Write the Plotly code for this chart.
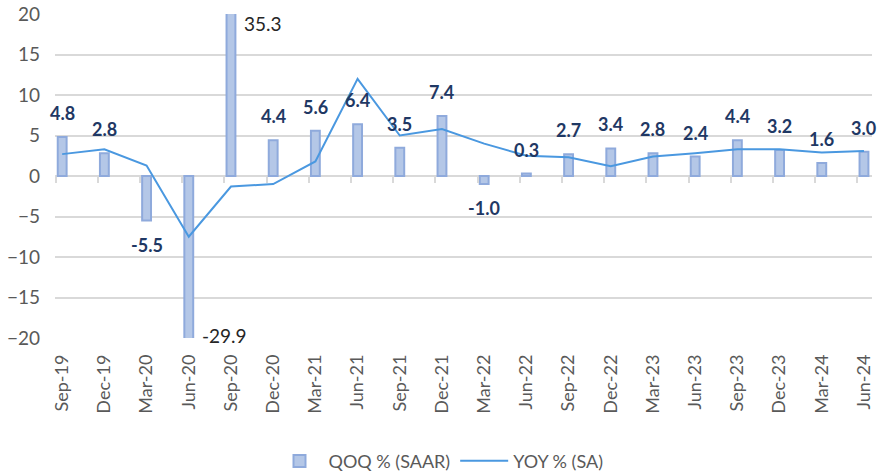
import plotly.graph_objects as go

categories = ["Sep-19", "Dec-19", "Mar-20", "Jun-20", "Sep-20", "Dec-20", "Mar-21", "Jun-21",
              "Sep-21", "Dec-21", "Mar-22", "Jun-22", "Sep-22", "Dec-22", "Mar-23", "Jun-23",
              "Sep-23", "Dec-23", "Mar-24", "Jun-24"]
qoq_saar = [4.8, 2.8, -5.5, -29.9, 35.3, 4.4, 5.6, 6.4, 3.5, 7.4, -1.0, 0.3, 2.7, 3.4, 2.8, 2.4,
            4.4, 3.2, 1.6, 3.0]
yoy_sa = [2.7, 3.3, 1.3, -7.5, -1.3, -1.0, 1.8, 12.0, 5.0, 5.8, 4.0, 2.5, 2.3, 1.2, 2.4, 2.8,
          3.3, 3.3, 2.9, 3.1]
y_min, y_max = -20, 20
y_ticks = [-20, -15, -10, -5, 0, 5, 10, 15, 20]

FONT = "Lato, 'Open Sans', sans-serif"
GRID = "#D9D9D9"
X_RANGE = [-0.17, len(categories) - 1 + 0.19]

fig = go.Figure()
fig.add_trace(go.Bar(
    x=categories, y=qoq_saar, name="QOQ % (SAAR)", width=0.21,
    marker=dict(color="#B4C7E7", line=dict(color="#8FAADC", width=2)),
))
fig.add_trace(go.Scatter(
    x=categories, y=yoy_sa, name="YOY % (SA)", mode="lines",
    line=dict(color="#4A98E0", width=2),
))
# empty helper trace so the overlay axis (zero-line tick marks) is drawn
fig.add_trace(go.Scatter(x=[0], y=[None], xaxis="x2", yaxis="y", mode="markers",
                         showlegend=False, hoverinfo="skip"))

for c, v in zip(categories, qoq_saar):
    txt = f"{v:.1f}"
    if v > y_max:
        fig.add_annotation(x=c, y=y_max, text=txt, showarrow=False, xanchor="left",
                           yanchor="middle", xshift=11, yshift=-9,
                           font=dict(family=FONT, size=19, color="#262626"))
    elif v < y_min:
        fig.add_annotation(x=c, y=y_min, text=txt, showarrow=False, xanchor="left",
                           yanchor="middle", xshift=11, yshift=3,
                           font=dict(family=FONT, size=19, color="#262626"))
    else:
        fig.add_annotation(x=c, y=v, text=f"<b>{txt}</b>", showarrow=False, xanchor="center",
                           yanchor="middle", yshift=24 if v >= 0 else -24,
                           font=dict(family=FONT, size=18, color="#1F3864"))

fig.update_layout(
    width=879, height=473,
    margin=dict(l=55, r=7, t=14, b=135, autoexpand=False),
    paper_bgcolor="white", plot_bgcolor="white",
    font=dict(family=FONT, size=18, color="#595959"),
    showlegend=True,
    legend=dict(orientation="h", x=0.5, xanchor="center", xref="container",
                y=0.025, yanchor="middle", yref="container",
                font=dict(family=FONT, size=18, color="#595959"), itemwidth=48,
                traceorder="normal"),
    xaxis=dict(
        type="category", range=X_RANGE, automargin=False,
        tickangle=-90, showgrid=False, showline=False, ticks="", zeroline=False,
        ticklabelstandoff=12, tickfont=dict(family=FONT, size=18, color="#595959"),
    ),
    # small tick marks hanging from the zero line (Excel category axis)
    xaxis2=dict(overlaying="x", anchor="free", position=0.5, range=X_RANGE,
                tickvals=[i - 0.155 for i in range(len(categories))],
                ticks="outside", ticklen=6, tickwidth=1.5, tickcolor=GRID,
                showticklabels=False, showgrid=False, showline=False, zeroline=False,
                automargin=False, fixedrange=True),
    yaxis=dict(
        range=[y_min, y_max], tickvals=y_ticks, showgrid=True, gridcolor=GRID, gridwidth=1.5,
        zeroline=True, zerolinecolor=GRID, zerolinewidth=1.5, showline=False, ticks="",
        automargin=False, ticklabeloverflow="allow",
        ticklabelstandoff=14, tickfont=dict(family=FONT, size=19, color="#595959"),
    ),
)

fig.write_html("out.html", config={"displayModeBar": False},
               post_script="document.body.style.margin='0';")
